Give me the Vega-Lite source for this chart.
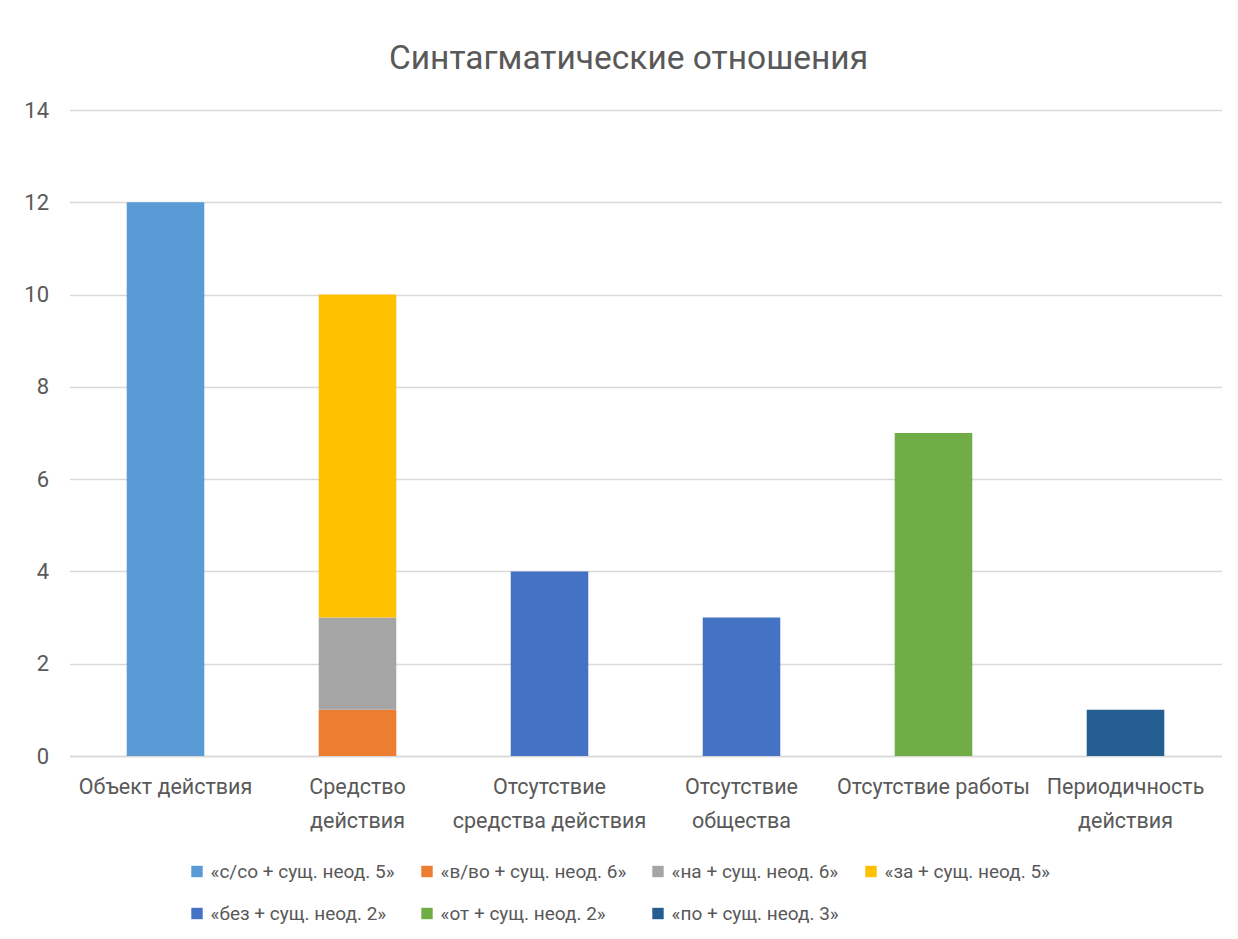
{
  "$schema": "https://vega.github.io/schema/vega-lite/v6.json",
  "width": 1152,
  "height": 646,
  "autosize": {"type": "none"},
  "padding": {"left": 69.5, "top": 110, "right": 16.5, "bottom": 183},
  "background": "white",
  "title": {
    "text": "Синтагматические отношения",
    "font": "Roboto",
    "fontSize": 33.5,
    "fontWeight": "normal",
    "color": "#595959",
    "anchor": "middle",
    "offset": 23,
    "dx": -17
  },
  "data": {
    "values": [
      {"category": "Объект действия", "construction": "«с/со + сущ. неод. 5»", "count": 12},
      {"category": "Средство действия", "construction": "«в/во + сущ. неод. 6»", "count": 1},
      {"category": "Средство действия", "construction": "«на + сущ. неод. 6»", "count": 2},
      {"category": "Средство действия", "construction": "«за + сущ. неод. 5»", "count": 7},
      {"category": "Отсутствие средства действия", "construction": "«без + сущ. неод. 2»", "count": 4},
      {"category": "Отсутствие общества", "construction": "«без + сущ. неод. 2»", "count": 3},
      {"category": "Отсутствие работы", "construction": "«от + сущ. неод. 2»", "count": 7},
      {"category": "Периодичность действия", "construction": "«по + сущ. неод. 3»", "count": 1}
    ]
  },
  "mark": {"type": "bar"},
  "encoding": {
    "x": {
      "field": "category",
      "type": "nominal",
      "sort": ["Объект действия", "Средство действия", "Отсутствие средства действия", "Отсутствие общества", "Отсутствие работы", "Периодичность действия"],
      "scale": {"paddingInner": 0.596, "paddingOuter": 0.298},
      "axis": {
        "title": null,
        "labelAngle": 0,
        "labelFont": "Roboto",
        "labelFontSize": 21.5,
        "labelColor": "#595959",
        "labelPadding": 20,
        "labelLineHeight": 34,
        "labelBaseline": "top",
        "labelLimit": 300,
        "ticks": false,
        "domainColor": "#D9D9D9",
        "domainWidth": 1.5,
        "labelExpr": "datum.value == 'Средство действия' ? ['Средство', 'действия'] : datum.value == 'Отсутствие средства действия' ? ['Отсутствие', 'средства действия'] : datum.value == 'Отсутствие общества' ? ['Отсутствие', 'общества'] : datum.value == 'Периодичность действия' ? ['Периодичность', 'действия'] : datum.value"
      }
    },
    "y": {
      "field": "count",
      "type": "quantitative",
      "stack": "zero",
      "scale": {"domain": [0, 14], "nice": false},
      "axis": {
        "title": null,
        "values": [0, 2, 4, 6, 8, 10, 12, 14],
        "labelFont": "Roboto",
        "labelFontSize": 22,
        "labelColor": "#595959",
        "labelPadding": 21,
        "ticks": false,
        "domain": false,
        "gridColor": "#D9D9D9",
        "gridWidth": 1.5
      }
    },
    "color": {
      "field": "construction",
      "type": "nominal",
      "scale": {
        "domain": ["«с/со + сущ. неод. 5»", "«в/во + сущ. неод. 6»", "«на + сущ. неод. 6»", "«за + сущ. неод. 5»", "«без + сущ. неод. 2»", "«от + сущ. неод. 2»", "«по + сущ. неод. 3»"],
        "range": ["#5B9BD5", "#ED7D31", "#A5A5A5", "#FFC000", "#4472C4", "#70AD47", "#255E91"]
      },
      "legend": {
        "title": null,
        "orient": "none",
        "legendX": 118,
        "legendY": 752,
        "direction": "horizontal",
        "columns": 4,
        "gridAlign": "none",
        "symbolType": "square",
        "symbolSize": 130,
        "symbolStrokeWidth": 0,
        "symbolOpacity": 1,
        "labelFont": "Roboto",
        "labelFontSize": 19,
        "labelColor": "#595959",
        "labelLimit": 400,
        "rowPadding": 22,
        "columnPadding": 22
      }
    },
    "order": {"field": "count", "type": "quantitative", "sort": "ascending"}
  },
  "config": {
    "view": {"stroke": null}
  }
}
